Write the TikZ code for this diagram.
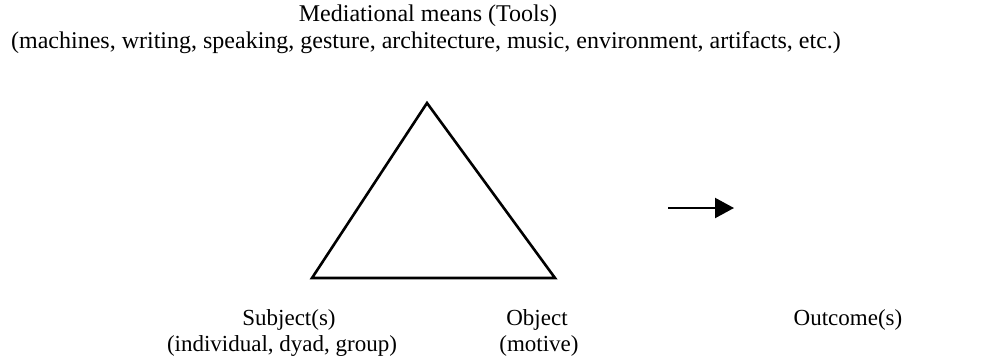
\documentclass[tikz,border=0pt]{standalone}
\usepackage{fontspec}
\setmainfont{Liberation Serif}
\usetikzlibrary{arrows.meta}
\begin{document}
\begin{tikzpicture}[x=1pt,y=-1pt,
  lbl/.style={inner sep=0pt, font=\fontsize{24}{27}\selectfont},
  sublbl/.style={inner sep=0pt, font=\fontsize{23}{26}\selectfont},
  tri/.style={line width=2.6pt, line join=miter},
  flow/.style={line width=2.2pt, -{Triangle[length=19pt,width=20pt]}}]
\useasboundingbox[fill=white] (0,0) rectangle (990,360);
\node[lbl, anchor=base] (title) at (428,21) {Mediational means (Tools)};
\node[lbl, anchor=base] (tools) at (426,48) {(machines, writing, speaking, gesture, architecture, music, environment, artifacts, etc.)};
\coordinate (apex) at (427,103);
\coordinate (subj) at (312,278);
\coordinate (obj) at (555,278);
\draw[tri] (apex) -- (subj) -- (obj) -- cycle;
\coordinate (a1) at (668,208);
\coordinate (a2) at (734,208);
\draw[flow] (a1) -- (a2);
\node[sublbl, anchor=base] (s1) at (289,325) {Subject(s)};
\node[sublbl, anchor=base] (s2) at (282,351) {(individual, dyad, group)};
\node[sublbl, anchor=base] (o1) at (537,325) {Object};
\node[sublbl, anchor=base] (o2) at (539,351) {(motive)};
\node[sublbl, anchor=base] (oc) at (848,325) {Outcome(s)};
\end{tikzpicture}
\end{document}
